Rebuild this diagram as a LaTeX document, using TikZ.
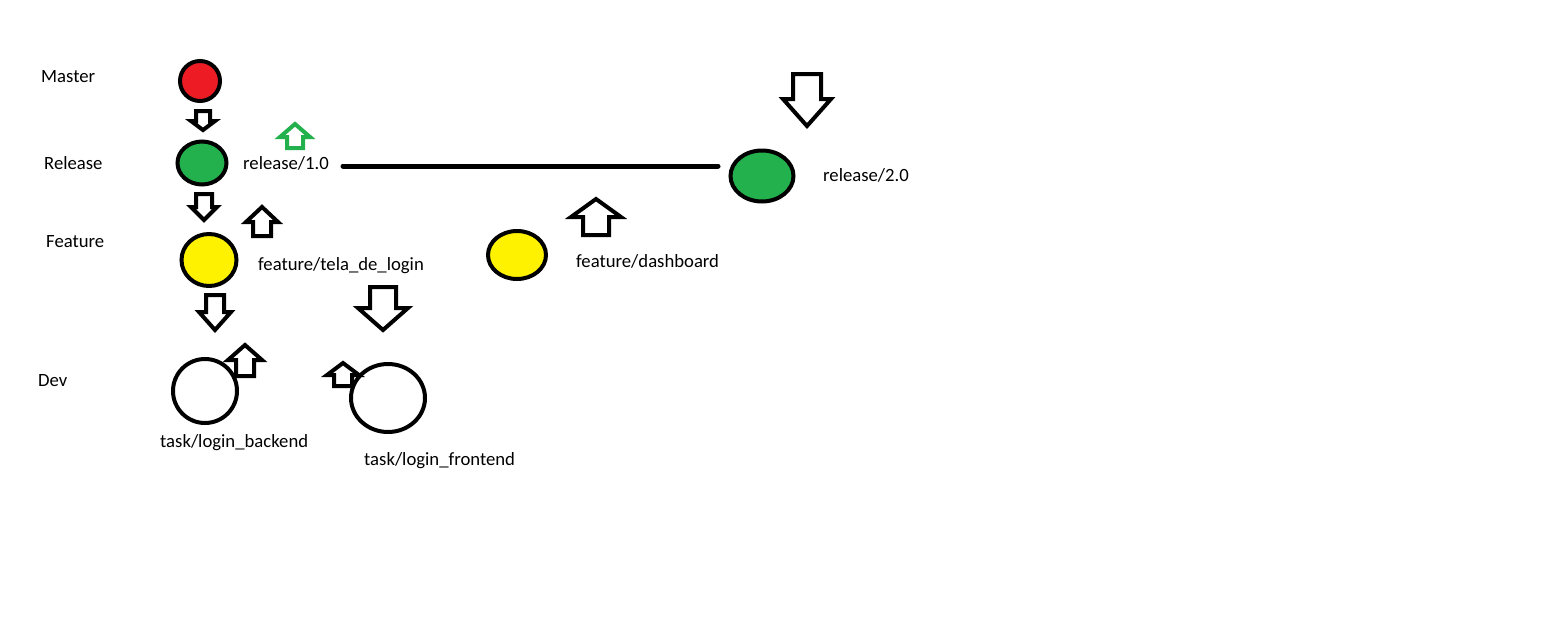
\documentclass[tikz,border=0pt]{standalone}
\usepackage{fontspec}
\setmainfont{Carlito}
\usetikzlibrary{shapes.geometric}
\definecolor{pred}{RGB}{237,28,36}
\definecolor{pgreen}{RGB}{34,177,76}
\definecolor{pyellow}{RGB}{255,242,0}
\newcommand\blockarr[7][black]{% color, cx, tip, base, tail, hw, sw
  \draw[arrbox,draw=#1] (#2-#7,#5) -- (#2-#7,#4) -- (#2-#6,#4) -- (#2,#3) -- (#2+#6,#4) -- (#2+#7,#4) -- (#2+#7,#5) -- cycle;}
\begin{document}
\begin{tikzpicture}[x=1pt,y=-1pt,
  dot/.style={draw=black,line width=4pt,ellipse,inner sep=0pt},
  arrbox/.style={line width=4pt,fill=white,line join=miter},
  lbl/.style={anchor=base west,inner sep=0pt,font=\fontsize{18.7}{21}\selectfont}]
\useasboundingbox (0,0) rectangle (1567,640);
\fill[white] (0,0) rectangle (1567,640);
% row labels
\node[lbl] (master) at (41,82) {Master};
\node[lbl] (release) at (44,169) {Release};
\node[lbl] (feature) at (46,247) {Feature};
\node[lbl] (dev) at (38,386) {Dev};
% commits
\node[dot,fill=pred,minimum width=40pt,minimum height=40pt] (m) at (200,81) {};
\node[dot,fill=pgreen,minimum width=49pt,minimum height=43pt] (r1) at (202,163) {};
\node[dot,fill=pyellow,minimum width=55pt,minimum height=52pt] (f1) at (209,260) {};
\node[dot,fill=white,minimum width=64pt,minimum height=64pt] (d1) at (205,391) {};
\node[dot,fill=white,minimum width=74pt,minimum height=68pt] (d2) at (388,398) {};
\node[dot,fill=pgreen,minimum width=63pt,minimum height=51pt] (r2) at (762,176) {};
\node[dot,fill=pyellow,minimum width=58pt,minimum height=48pt] (f2) at (517,255) {};
% branch labels
\node[lbl] (r1t) at (243,169) {release/1.0};
\node[lbl] (r2t) at (823,181) {release/2.0};
\node[lbl] (f1t) at (258,270) {feature/tela\_de\_login};
\node[lbl] (f2t) at (576,267) {feature/dashboard};
\node[lbl] (d1t) at (160,447) {task/login\_backend};
\node[lbl] (d2t) at (364,465) {task/login\_frontend};
% line
\coordinate (l1) at (343,166);
\coordinate (l2) at (718,166);
\draw[line width=5pt,line cap=round] (l1) -- (l2);
% block arrows
\blockarr{203}{130}{121}{111}{12}{7}
\blockarr[pgreen]{295}{124}{137}{148}{15}{8}
\blockarr{204}{220}{207}{194}{13}{8}
\blockarr{262}{207}{222}{236}{16}{9}
\blockarr{215}{330}{312}{295}{16}{9}
\blockarr{245}{345}{360}{376}{17}{9}
\blockarr{383}{330}{308}{287}{25}{13}
\blockarr{343}{363}{375}{386}{16}{9}
\blockarr{807}{126}{99}{74}{24}{14}
\blockarr{596}{199}{217}{235}{25}{13}
\end{tikzpicture}
\end{document}
